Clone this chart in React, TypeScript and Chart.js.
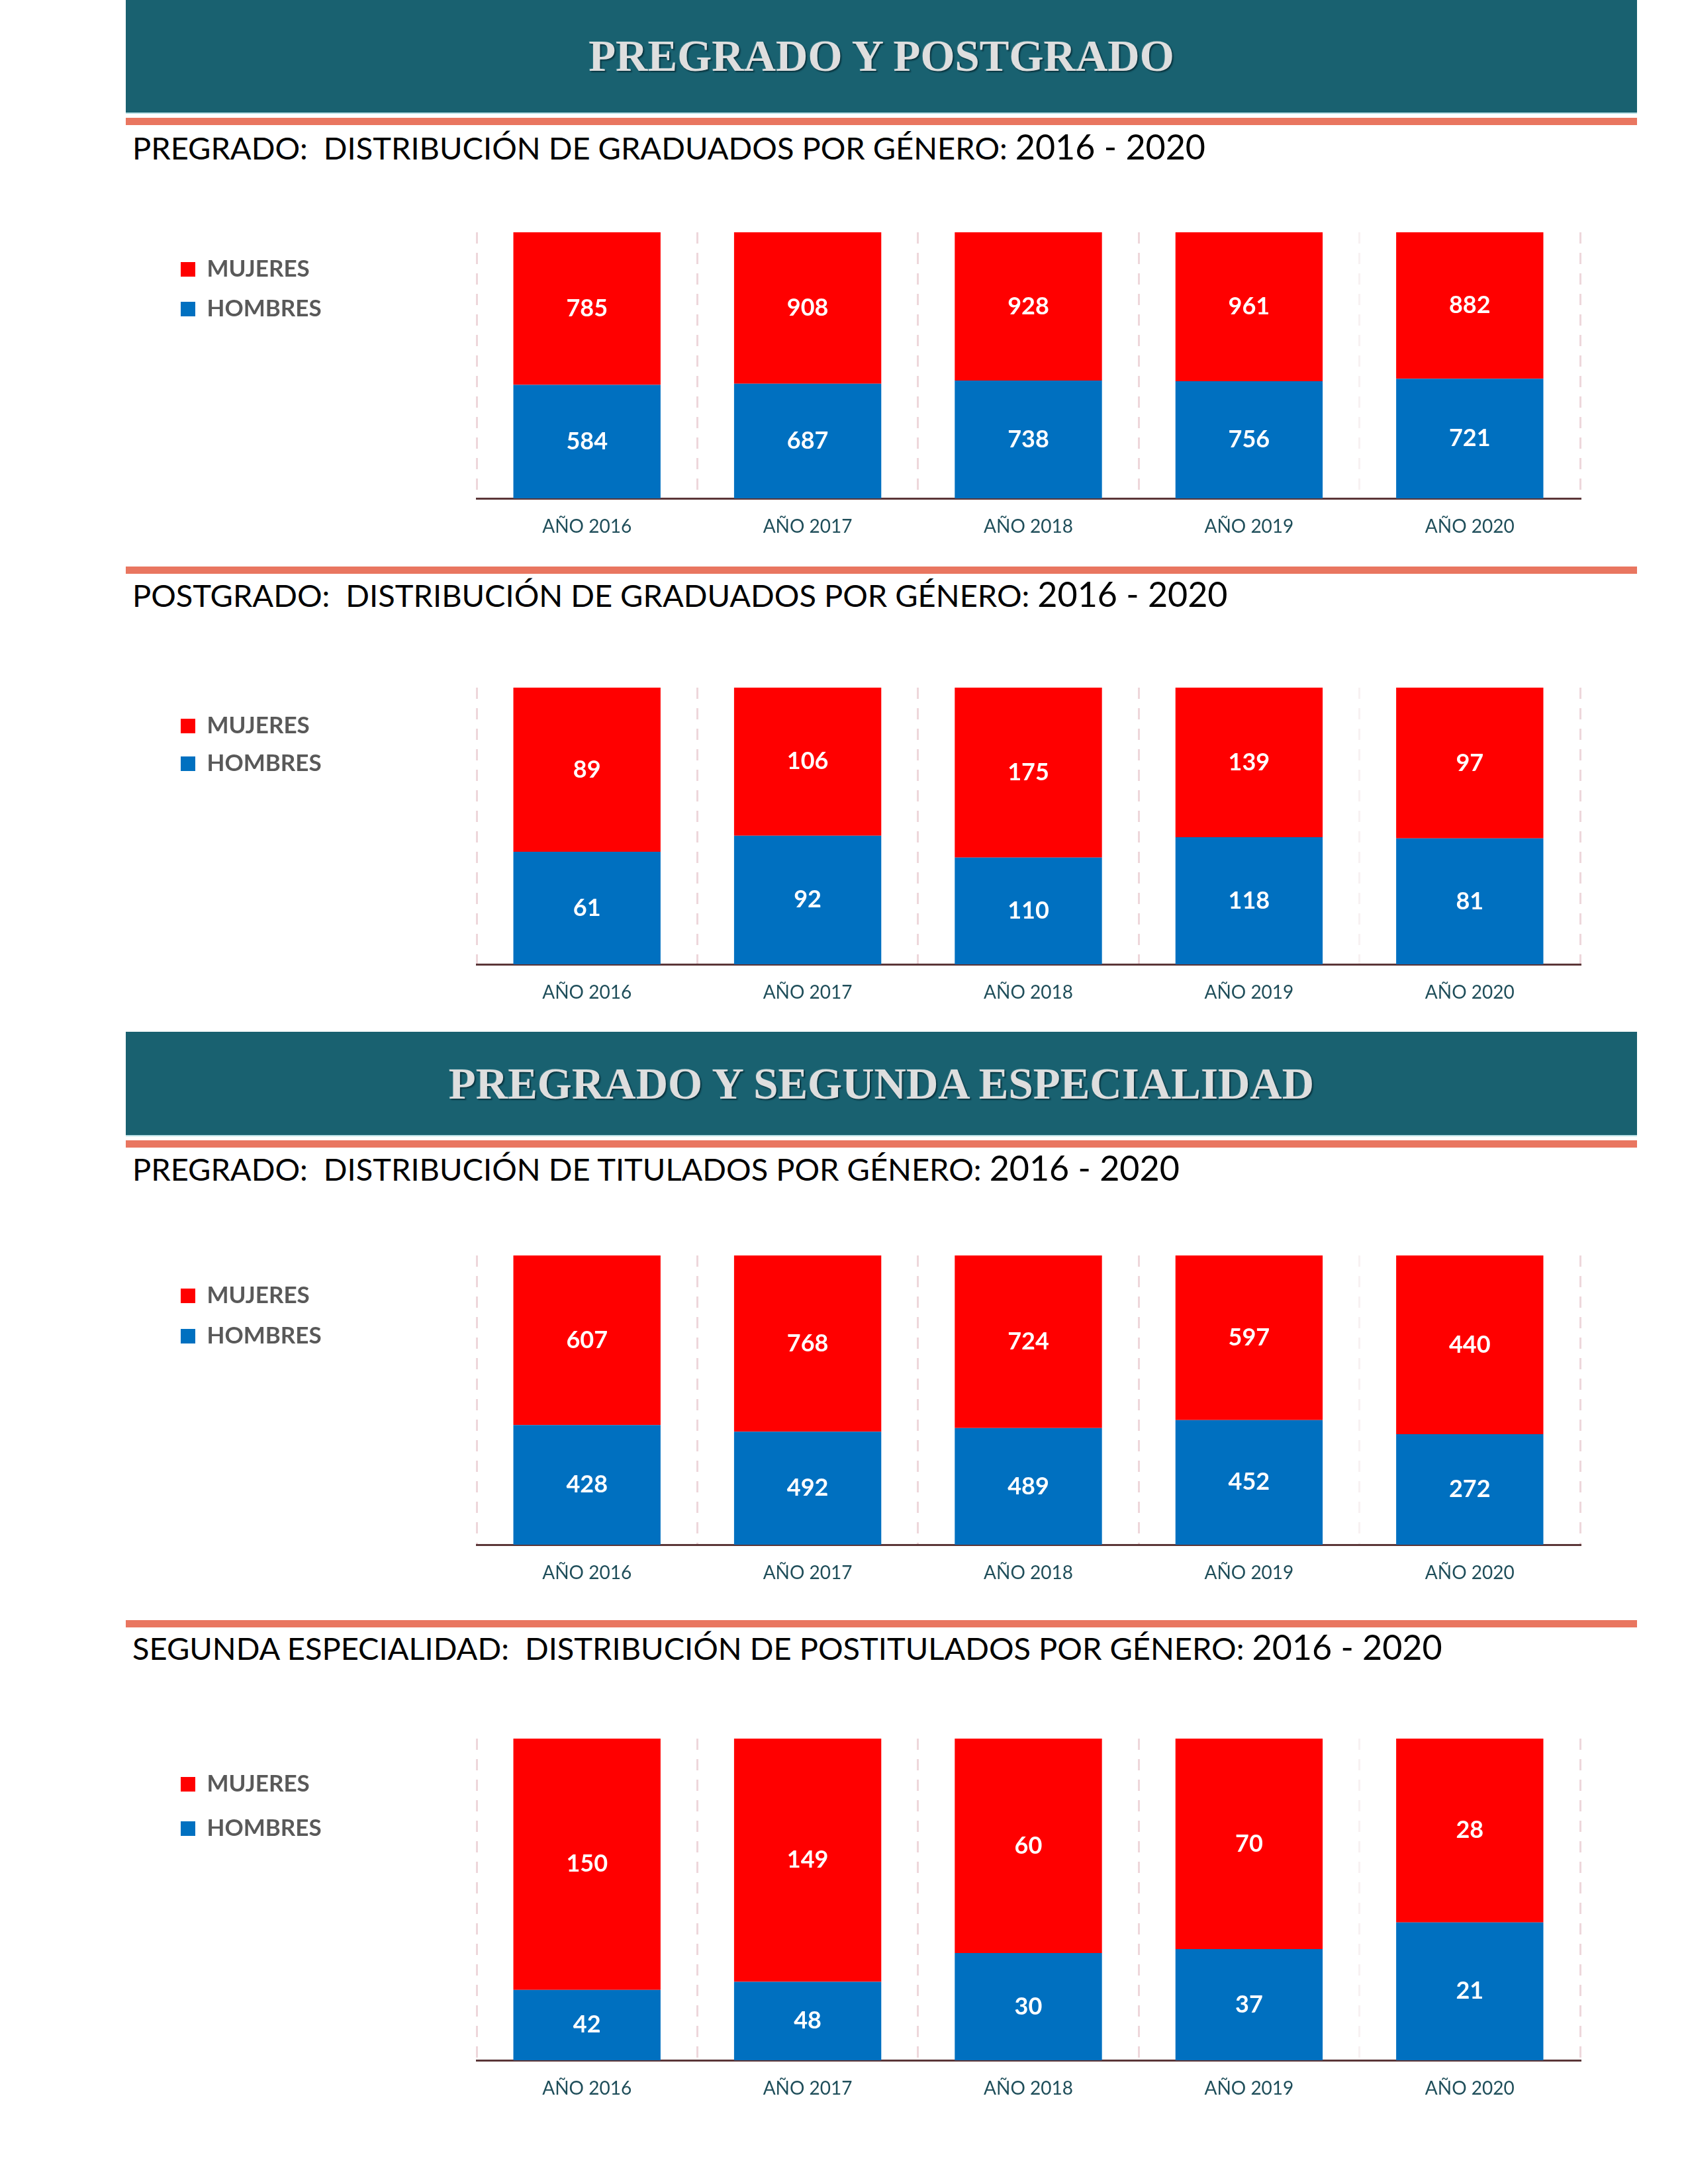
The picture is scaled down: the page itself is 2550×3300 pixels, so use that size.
import React, { useEffect, useRef } from "react";
import { Chart, registerables } from "chart.js";

Chart.register(...registerables);

// ---------- DATA ----------
const YEARS = ["AÑO 2016", "AÑO 2017", "AÑO 2018", "AÑO 2019", "AÑO 2020"];
const SERIES_WOMEN = "MUJERES";
const SERIES_MEN = "HOMBRES";

const GRAD_PRE_MUJERES = [785, 908, 928, 961, 882];
const GRAD_PRE_HOMBRES = [584, 687, 738, 756, 721];

const GRAD_POST_MUJERES = [89, 106, 175, 139, 97];
const GRAD_POST_HOMBRES = [61, 92, 110, 118, 81];

const TIT_PRE_MUJERES = [607, 768, 724, 597, 440];
const TIT_PRE_HOMBRES = [428, 492, 489, 452, 272];

const SEG_ESP_MUJERES = [150, 149, 60, 70, 28];
const SEG_ESP_HOMBRES = [42, 48, 30, 37, 21];

// ---------- STYLE ----------
const RED = "#ff0000";
const BLUE = "#0070c0";
const TEAL = "#196170";
const ORANGE = "#e97660";
const PLOT_LEFT = 720;
const PLOT_RIGHT = 2387;
const LEGEND_BOX_X = 273;
const PAGE_LEFT = 190;
const PAGE_WIDTH = 2283;

const share = (a: number[], b: number[]) => a.map((v, i) => (v / (v + b[i])) * 100);

const valueLabels = {
  id: "valueLabels",
  afterDatasetsDraw(chart: any) {
    const ctx = chart.ctx;
    ctx.save();
    ctx.font = "bold 36px Lato";
    ctx.fillStyle = "#ffffff";
    ctx.textAlign = "center";
    ctx.textBaseline = "middle";
    chart.data.datasets.forEach((ds: any, di: number) => {
      const meta = chart.getDatasetMeta(di);
      meta.data.forEach((el: any, i: number) => {
        const p = el.getProps(["x", "y", "base"], true);
        ctx.fillText(String(ds.counts[i]), p.x, (p.y + p.base) / 2);
      });
    });
    ctx.restore();
  },
};

const fixedLegend = (width: number) => ({
  id: "fixedLegend",
  beforeInit(chart: any) {
    const lg = chart.legend;
    if (!lg || lg.__fixed) return;
    const orig = lg.fit.bind(lg);
    lg.fit = function () {
      orig();
      this.width = width;
    };
    lg.__fixed = true;
  },
});

type ChartSpec = {
  top: number;
  base: number;
  pad: number;
  titleH: number;
  women: number[];
  men: number[];
};

function StackChart({ spec }: { spec: ChartSpec }) {
  const ref = useRef<HTMLCanvasElement | null>(null);
  const left = LEGEND_BOX_X - spec.pad;
  const width = PLOT_RIGHT + 13 - left;
  const height = spec.base - spec.top + 10 + 70;

  useEffect(() => {
    if (!ref.current) return;
    const chart = new Chart(ref.current, {
      type: "bar",
      data: {
        labels: YEARS,
        datasets: [
          {
            label: SERIES_MEN,
            data: share(spec.men, spec.women),
            counts: spec.men,
            backgroundColor: BLUE,
            borderWidth: 0,
            barPercentage: 0.667,
            categoryPercentage: 1,
          } as any,
          {
            label: SERIES_WOMEN,
            data: share(spec.women, spec.men),
            counts: spec.women,
            backgroundColor: RED,
            borderWidth: 0,
            barPercentage: 0.667,
            categoryPercentage: 1,
          } as any,
        ],
      },
      options: {
        responsive: false,
        animation: false,
        layout: { padding: { top: 10, right: 13, bottom: 0, left: 0 } },
        scales: {
          x: {
            stacked: true,
            offset: true,
            grid: {
              display: true,
              offset: true,
              drawTicks: false,
              lineWidth: 3,
              color: (c: any) => (c.index >= 4 ? "#f8f1f2" : "#eed7db"),
            },
            border: { display: true, color: "#5b3638", width: 3, dash: [17, 14] },
            ticks: {
              color: "#1f4e5a",
              font: { family: "Lato", size: 28 },
              padding: 26,
            },
            afterFit: (s: any) => {
              s.height = 70;
            },
          },
          y: { stacked: true, min: 0, max: 100, display: false },
        },
        plugins: {
          legend: {
            position: "left",
            align: "start",
            reverse: true,
            title: {
              display: true,
              text: " ",
              font: { size: 1 },
              padding: { top: spec.titleH - 1.2, bottom: 0 },
            },
            labels: {
              boxWidth: 22,
              boxHeight: 22,
              padding: spec.pad,
              color: "#595959",
              font: { family: "Lato", size: 35, weight: "bold" },
            },
          },
          tooltip: { enabled: false },
        },
      } as any,
      plugins: [valueLabels, fixedLegend(PLOT_LEFT - left)],
    });
    return () => chart.destroy();
  }, []);

  return (
    <canvas
      ref={ref}
      width={width}
      height={height}
      style={{ position: "absolute", left, top: spec.top - 10, width, height }}
    />
  );
}

function Banner({ top, height, text }: { top: number; height: number; text: string }) {
  return (
    <div
      style={{
        position: "absolute",
        left: PAGE_LEFT,
        top,
        width: PAGE_WIDTH,
        height,
        background: TEAL,
        borderBottom: "2px solid #b9e0e6",
        display: "flex",
        alignItems: "center",
        justifyContent: "center",
        fontFamily: "'Liberation Serif', 'Times New Roman', serif",
        fontWeight: "bold",
        fontSize: 67,
        color: "#dedede",
        textShadow: "2px 2px 2px #0a3540, -1px -1px 0 #2d7482",
        whiteSpace: "pre",
      }}
    >
      {text}
    </div>
  );
}

function Rule({ top }: { top: number }) {
  return (
    <div
      style={{ position: "absolute", left: PAGE_LEFT, top, width: PAGE_WIDTH, height: 11, background: ORANGE }}
    />
  );
}

function Title({ capCenter, text }: { capCenter: number; text: string }) {
  return (
    <div
      style={{
        position: "absolute",
        left: 200,
        top: capCenter - 28,
        fontFamily: "Lato, sans-serif",
        fontSize: 47,
        lineHeight: "48px",
        color: "#000",
        whiteSpace: "pre",
      }}
    >
      {text}
      <span style={{ fontSize: 52, lineHeight: "48px" }}>2016 - 2020</span>
    </div>
  );
}

const CHARTS: ChartSpec[] = [
  { top: 351, base: 753, pad: 25, titleH: 13.5, women: GRAD_PRE_MUJERES, men: GRAD_PRE_HOMBRES },
  { top: 1039, base: 1457, pad: 22, titleH: 18.5, women: GRAD_POST_MUJERES, men: GRAD_POST_HOMBRES },
  { top: 1897, base: 2334, pad: 26, titleH: 17.5, women: TIT_PRE_MUJERES, men: TIT_PRE_HOMBRES },
  { top: 2627, base: 3113, pad: 32, titleH: 19.5, women: SEG_ESP_MUJERES, men: SEG_ESP_HOMBRES },
];

export default function App() {
  return (
    <div
      style={{
        position: "absolute",
        left: 0,
        top: 0,
        width: 2550,
        height: 3300,
        background: "#ffffff",
        overflow: "hidden",
      }}
    >
      <Banner top={-2} height={172} text="PREGRADO Y POSTGRADO" />
      <Rule top={178} />
      <Title capCenter={225} text={"PREGRADO:  DISTRIBUCIÓN DE GRADUADOS POR GÉNERO: "} />
      <StackChart spec={CHARTS[0]} />

      <Rule top={856} />
      <Title capCenter={901} text={"POSTGRADO:  DISTRIBUCIÓN DE GRADUADOS POR GÉNERO: "} />
      <StackChart spec={CHARTS[1]} />

      <Banner top={1559} height={156} text="PREGRADO Y SEGUNDA ESPECIALIDAD" />
      <Rule top={1723} />
      <Title capCenter={1768} text={"PREGRADO:  DISTRIBUCIÓN DE TITULADOS POR GÉNERO: "} />
      <StackChart spec={CHARTS[2]} />

      <Rule top={2448} />
      <Title
        capCenter={2492}
        text={"SEGUNDA ESPECIALIDAD:  DISTRIBUCIÓN DE POSTITULADOS POR GÉNERO: "}
      />
      <StackChart spec={CHARTS[3]} />
    </div>
  );
}
